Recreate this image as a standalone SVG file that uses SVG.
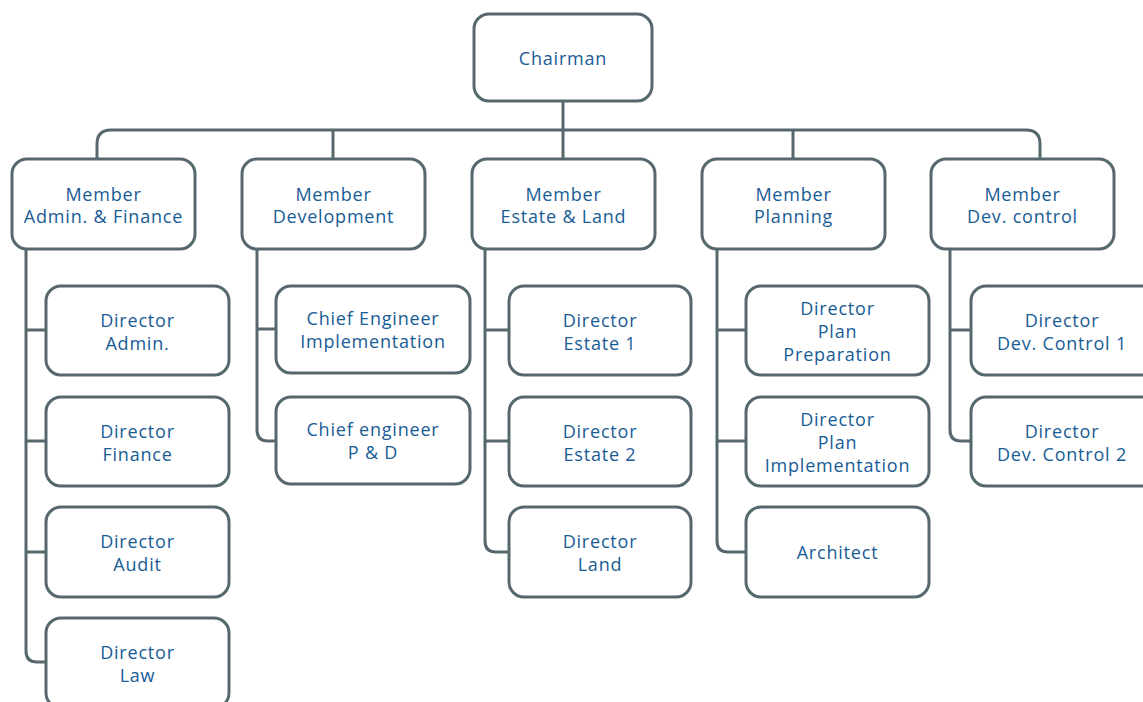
<svg xmlns="http://www.w3.org/2000/svg" width="1143" height="702" viewBox="0 0 1143 702">
<style>
.box{fill:#fff;stroke:#56686e;stroke-width:3}
.ln{fill:none;stroke:#56686e;stroke-width:3;stroke-linejoin:round}
text{font-family:"Open Sans","Liberation Sans",sans-serif;font-size:18px;fill:#185c95;text-anchor:middle;letter-spacing:0.8px}
</style>
<rect width="1143" height="702" fill="#fff"/>
<g id="connectors">
<path class="ln" d="M563 101V159M97 159V144Q97 130 111 130H1026Q1040 130 1040 144V159M333 130V159M793 130V159"/>
<path class="ln" d="M26 249V651Q26 662 37 662H46M26 330H46M26 441H46M26 552H46"/>
<path class="ln" d="M257 249V430Q257 441 268 441H276M257 329H276"/>
<path class="ln" d="M485 249V541Q485 552 496 552H509M485 330H509M485 441H509"/>
<path class="ln" d="M717 249V541Q717 552 728 552H746M717 330H746M717 441H746"/>
<path class="ln" d="M950 249V430Q950 441 961 441H971M950 330H971"/>
</g>
<g id="chairman"><rect class="box" x="474" y="14" width="178" height="87" rx="15"/><text x="563" y="65">Chairman</text></g>
<g id="m1"><rect class="box" x="12" y="159" width="183" height="90" rx="15"/><text x="103.5" y="201">Member</text><text x="103.5" y="223">Admin. &amp; Finance</text></g>
<g id="m2"><rect class="box" x="242" y="159" width="183" height="90" rx="15"/><text x="333.5" y="201">Member</text><text x="333.5" y="223">Development</text></g>
<g id="m3"><rect class="box" x="472" y="159" width="183" height="90" rx="15"/><text x="563.5" y="201">Member</text><text x="563.5" y="223">Estate &amp; Land</text></g>
<g id="m4"><rect class="box" x="702" y="159" width="183" height="90" rx="15"/><text x="793.5" y="201">Member</text><text x="793.5" y="223">Planning</text></g>
<g id="m5"><rect class="box" x="931" y="159" width="183" height="90" rx="15"/><text x="1022.5" y="201">Member</text><text x="1022.5" y="223">Dev. control</text></g>

<g id="d-admin"><rect class="box" x="46" y="286" width="183" height="89" rx="15"/><text x="137.5" y="327">Director</text><text x="137.5" y="350">Admin.</text></g>
<g id="d-finance"><rect class="box" x="46" y="397" width="183" height="89" rx="15"/><text x="137.5" y="438">Director</text><text x="137.5" y="461">Finance</text></g>
<g id="d-audit"><rect class="box" x="46" y="507" width="183" height="90" rx="15"/><text x="137.5" y="548">Director</text><text x="137.5" y="571">Audit</text></g>
<g id="d-law"><rect class="box" x="46" y="618" width="183" height="90" rx="15"/><text x="137.5" y="659">Director</text><text x="137.5" y="682">Law</text></g>

<g id="ce-impl"><rect class="box" x="276" y="286" width="194" height="87" rx="15"/><text x="373" y="325">Chief Engineer</text><text x="373" y="348">Implementation</text></g>
<g id="ce-pd"><rect class="box" x="276" y="397" width="194" height="87" rx="15"/><text x="373" y="436">Chief engineer</text><text x="373" y="459">P &amp; D</text></g>

<g id="d-estate1"><rect class="box" x="509" y="286" width="182" height="89" rx="15"/><text x="600" y="327">Director</text><text x="600" y="350">Estate 1</text></g>
<g id="d-estate2"><rect class="box" x="509" y="397" width="182" height="89" rx="15"/><text x="600" y="438">Director</text><text x="600" y="461">Estate 2</text></g>
<g id="d-land"><rect class="box" x="509" y="507" width="182" height="90" rx="15"/><text x="600" y="548">Director</text><text x="600" y="571">Land</text></g>

<g id="d-planprep"><rect class="box" x="746" y="286" width="183" height="89" rx="15"/><text x="837.5" y="315">Director</text><text x="837.5" y="338">Plan</text><text x="837.5" y="361">Preparation</text></g>
<g id="d-planimpl"><rect class="box" x="746" y="397" width="183" height="89" rx="15"/><text x="837.5" y="426">Director</text><text x="837.5" y="449">Plan</text><text x="837.5" y="472">Implementation</text></g>
<g id="architect"><rect class="box" x="746" y="507" width="183" height="90" rx="15"/><text x="837.5" y="559">Architect</text></g>

<g id="d-dc1"><rect class="box" x="971" y="286" width="190" height="89" rx="15"/><text x="1062" y="327">Director</text><text x="1062" y="350">Dev. Control 1</text></g>
<g id="d-dc2"><rect class="box" x="971" y="397" width="190" height="89" rx="15"/><text x="1062" y="438">Director</text><text x="1062" y="461">Dev. Control 2</text></g>
</svg>
